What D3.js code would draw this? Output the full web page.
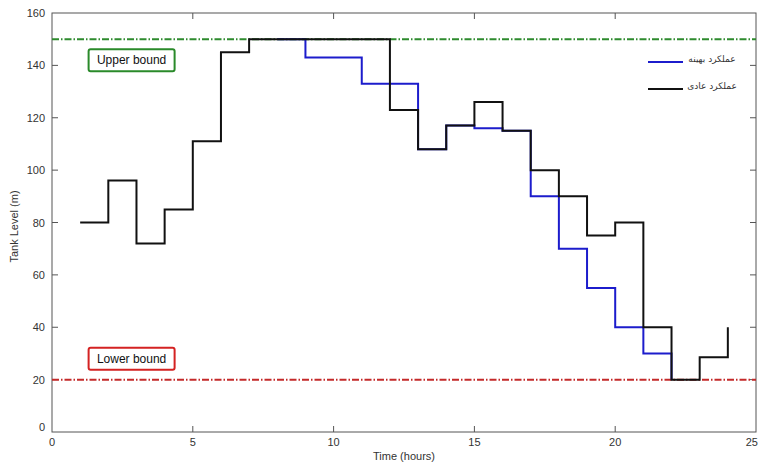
<!DOCTYPE html>
<html>
<head>
<meta charset="utf-8">
<script src="https://cdn.jsdelivr.net/npm/d3@7"></script>
<style>
  body { margin: 0; background: #fff; }
  svg { display: block; font-family: "Liberation Sans", Arial, sans-serif; }
</style>
</head>
<body>
<svg id="chart" width="759" height="463"></svg>
<script>
// hours at which each step starts
const hours = [1, 2, 3, 4, 5, 6, 7, 8, 9, 10, 11, 12, 13, 14, 15, 16, 17, 18, 19, 20, 21, 22, 23, 24];
// normal operation (black)
const normalLevel = [80, 96, 72, 85, 111, 145, 150, 150, 150, 150, 150, 123, 108, 117, 126, 115, 100, 90, 75, 80, 40, 20, 28.5, 40];
// optimal operation (blue); before hour 8 it lies under the black line
const optimalHours = [8, 9, 10, 11, 12, 13, 14, 15, 16, 17, 18, 19, 20, 21, 22];
const optimalLevel = [150, 143, 143, 133, 133, 108, 117, 116, 115, 90, 70, 55, 40, 30, 20];

const upperBound = 150;
const lowerBound = 20;
const xTicks = [0, 5, 10, 15, 20, 25];
const yTicks = [0, 20, 40, 60, 80, 100, 120, 140, 160];
const legendLabels = ["عملکرد بهینه", "عملکرد عادی"];

const svg = d3.select("#chart");
const margin = { top: 13, right: 3, bottom: 31, left: 52 };
const width = 759 - margin.left - margin.right;
const height = 463 - margin.top - margin.bottom;

const x = d3.scaleLinear().domain([0, 25]).range([0, width]);
const y = d3.scaleLinear().domain([0, 160]).range([height, 0]);

const g = svg.append("g")
  .attr("transform", "translate(" + margin.left + "," + margin.top + ")");

const axisColor = "#555";

// frame
g.append("rect")
  .attr("width", width)
  .attr("height", height)
  .attr("fill", "none")
  .attr("stroke", axisColor)
  .attr("stroke-width", 1);

// inward ticks on all four sides
const tickLen = 6;
g.append("g").selectAll("line").data(xTicks.slice(1, -1)).enter().append("line")
  .attr("x1", d => x(d)).attr("x2", d => x(d))
  .attr("y1", height).attr("y2", height - tickLen)
  .attr("stroke", axisColor);
g.append("g").selectAll("line").data(xTicks.slice(1, -1)).enter().append("line")
  .attr("x1", d => x(d)).attr("x2", d => x(d))
  .attr("y1", 0).attr("y2", tickLen)
  .attr("stroke", axisColor);
g.append("g").selectAll("line").data(yTicks.slice(1, -1)).enter().append("line")
  .attr("x1", 0).attr("x2", tickLen)
  .attr("y1", d => y(d)).attr("y2", d => y(d))
  .attr("stroke", axisColor);
g.append("g").selectAll("line").data(yTicks.slice(1, -1)).enter().append("line")
  .attr("x1", width).attr("x2", width - tickLen)
  .attr("y1", d => y(d)).attr("y2", d => y(d))
  .attr("stroke", axisColor);

// tick labels (the last one kept inside the window)
g.append("g").selectAll("text").data(xTicks).enter().append("text")
  .attr("x", d => x(d))
  .attr("y", height + 14)
  .attr("text-anchor", (d, i) => i === xTicks.length - 1 ? "end" : "middle")
  .attr("dx", (d, i) => i === xTicks.length - 1 ? 2 : 0)
  .attr("font-size", 11)
  .attr("fill", "#333")
  .text(d => d);
g.append("g").selectAll("text").data(yTicks).enter().append("text")
  .attr("x", -7)
  .attr("y", d => y(d) + (d === 0 ? -1 : 4))
  .attr("text-anchor", "end")
  .attr("font-size", 11)
  .attr("fill", "#333")
  .text(d => d);

// axis titles
g.append("text")
  .attr("x", width / 2)
  .attr("y", height + 28)
  .attr("text-anchor", "middle")
  .attr("font-size", 11)
  .attr("fill", "#333")
  .text("Time (hours)");
g.append("text")
  .attr("transform", "translate(" + (-34) + "," + (height / 2 + 4) + ") rotate(-90)")
  .attr("text-anchor", "middle")
  .attr("font-size", 11)
  .attr("fill", "#333")
  .text("Tank Level (m)");

// bound lines
const bounds = [
  { value: upperBound, color: "#2e8b2e", label: "Upper bound" },
  { value: lowerBound, color: "#c42a2a", label: "Lower bound" }
];
g.append("g").selectAll("line").data(bounds).enter().append("line")
  .attr("x1", 0).attr("x2", width)
  .attr("y1", d => y(d.value)).attr("y2", d => y(d.value))
  .attr("stroke", d => d.color)
  .attr("stroke-width", 2)
  .attr("stroke-dasharray", "7,2,1.5,2");

// step lines
const line = d3.line()
  .x(d => x(d[0]))
  .y(d => y(d[1]))
  .curve(d3.curveStepAfter);

g.append("path")
  .datum(d3.zip(optimalHours, optimalLevel))
  .attr("fill", "none")
  .attr("stroke", "#1c1ccc")
  .attr("stroke-width", 2)
  .attr("d", line);

g.append("path")
  .datum(d3.zip(hours, normalLevel))
  .attr("fill", "none")
  .attr("stroke", "#111")
  .attr("stroke-width", 2)
  .attr("d", line);

// bound label boxes
const boxLevels = [142, 28];
const boxColors = ["#2a8a2a", "#d42222"];
const boxes = g.append("g").selectAll("g").data(bounds).enter().append("g")
  .attr("transform", (d, i) => "translate(" + x(1.3) + "," + (y(boxLevels[i]) - 11) + ")");
boxes.append("rect")
  .attr("width", 86)
  .attr("height", 22)
  .attr("rx", 2)
  .attr("fill", "#fff")
  .attr("stroke", (d, i) => boxColors[i])
  .attr("stroke-width", 2);
boxes.append("text")
  .attr("x", 43)
  .attr("y", 15)
  .attr("text-anchor", "middle")
  .attr("font-size", 12)
  .attr("fill", "#111")
  .text(d => d.label);

// legend
const legend = g.append("g").selectAll("g").data(legendLabels).enter().append("g")
  .attr("transform", (d, i) => "translate(" + (596) + "," + (49 + i * 27) + ")");
legend.append("line")
  .attr("x1", 0).attr("x2", 35)
  .attr("stroke", (d, i) => i === 0 ? "#1c1ccc" : "#111")
  .attr("stroke-width", 2);
legend.append("text")
  .attr("x", 64)
  .attr("y", 0)
  .attr("text-anchor", "middle")
  .attr("font-family", "'DejaVu Sans', sans-serif")
  .attr("font-size", 9)
  .attr("fill", "#333")
  .text(d => d);
</script>
</body>
</html>
